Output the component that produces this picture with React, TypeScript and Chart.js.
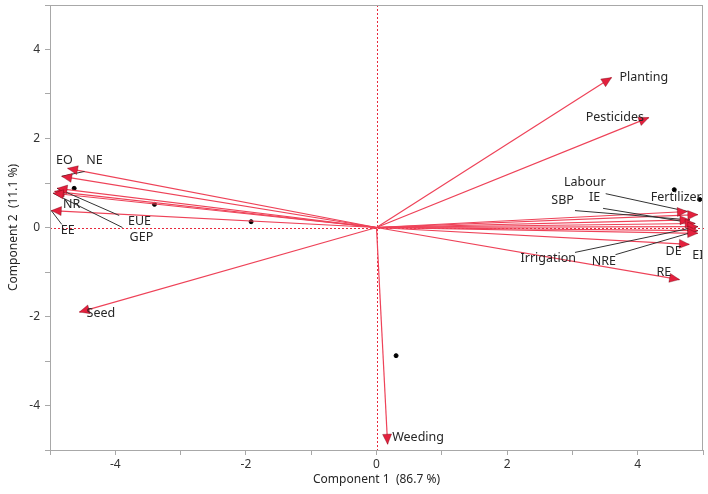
import React, { useEffect, useRef } from "react";
import { Chart, registerables } from "chart.js";

Chart.register(...registerables);

// ---- Data ----
const variables = [
  "Planting", "Pesticides", "Seed", "Weeding",
  "Labour", "Fertilizer", "SBP", "IE", "Irrigation", "NRE", "EI", "DE", "RE",
  "EO", "NE", "NR", "EUE", "GEP", "EE",
];
const loadingX = [
  3.6, 4.17, -4.55, 0.17,
  4.76, 4.92, 4.8, 4.88, 4.92, 4.92, 4.92, 4.79, 4.64,
  -4.73, -4.82, -4.93, -4.89, -4.95, -4.98,
];
const loadingY = [
  3.37, 2.47, -1.9, -4.87,
  0.36, 0.29, 0.17, 0.09, 0.02, -0.07, -0.13, -0.38, -1.17,
  1.33, 1.15, 0.81, 0.88, 0.77, 0.38,
];
const scoreX = [-4.63, -3.4, -1.92, 0.3, 4.56, 4.95];
const scoreY = [0.88, 0.52, 0.13, -2.88, 0.85, 0.63];
const xMajorTicks = [-4, -2, 0, 2, 4];
const yMajorTicks = [-4, -2, 0, 2, 4];
const xTitle = "Component 1  (86.7 %)";
const yTitle = "Component 2  (11.1 %)";

// ---- Label layout (data units), kept apart from the data ----
const labelLayout: Record<string, { x: number; y: number; align: CanvasTextAlign; lx?: number; ly?: number }> = {
  Planting: { x: 3.72, y: 3.37, align: "left" },
  Pesticides: { x: 3.65, y: 2.47, align: "center" },
  Seed: { x: -4.44, y: -1.92, align: "left" },
  Weeding: { x: 0.24, y: -4.72, align: "left" },
  Labour: { x: 3.19, y: 1.01, align: "center", lx: 3.51, ly: 0.76 },
  Fertilizer: { x: 4.2, y: 0.67, align: "left" },
  SBP: { x: 2.85, y: 0.61, align: "center", lx: 3.04, ly: 0.38 },
  IE: { x: 3.34, y: 0.67, align: "center", lx: 3.47, ly: 0.43 },
  Irrigation: { x: 2.63, y: -0.7, align: "center", lx: 3.04, ly: -0.56 },
  NRE: { x: 3.48, y: -0.76, align: "center", lx: 3.66, ly: -0.61 },
  EI: { x: 4.92, y: -0.63, align: "center" },
  DE: { x: 4.55, y: -0.54, align: "center" },
  RE: { x: 4.4, y: -1.01, align: "center" },
  EO: { x: -4.78, y: 1.51, align: "center" },
  NE: { x: -4.32, y: 1.51, align: "center", lx: -4.47, ly: 1.26 },
  NR: { x: -4.67, y: 0.52, align: "center" },
  EUE: { x: -3.63, y: 0.13, align: "center", lx: -3.94, ly: 0.27 },
  GEP: { x: -3.6, y: -0.22, align: "center", lx: -3.89, ly: 0.0 },
  EE: { x: -4.73, y: -0.07, align: "center", lx: -4.82, ly: 0.07 },
};

const FONT = "'Noto Sans', 'DejaVu Sans', sans-serif";
const VECTOR_COLOR = "rgb(238,66,88)";
const HEAD_COLOR = "#e3203d";
const ZERO_COLOR = "rgb(232,40,60)";

const biplotPlugin = {
  id: "biplot",
  beforeDatasetsDraw(chart: any) {
    const { ctx, chartArea, scales } = chart;
    const x = scales.x, y = scales.y;
    const ox = Math.round(x.getPixelForValue(0));
    const oy = Math.round(y.getPixelForValue(0));
    ctx.save();
    ctx.fillStyle = ZERO_COLOR;
    for (let py = Math.ceil(chartArea.top); py < chartArea.bottom; py += 4) {
      ctx.fillRect(ox, py, 1, 2);
    }
    for (let px = Math.ceil(chartArea.left); px < chartArea.right; px += 4) {
      ctx.fillRect(px, oy, 2, 1);
    }
    ctx.restore();
  },
  afterDatasetsDraw(chart: any) {
    const { ctx, chartArea, scales } = chart;
    const x = scales.x, y = scales.y;
    const ox = x.getPixelForValue(0), oy = y.getPixelForValue(0);
    ctx.save();
    ctx.beginPath();
    ctx.rect(chartArea.left, chartArea.top, chartArea.right - chartArea.left, chartArea.bottom - chartArea.top);
    ctx.clip();
    // leader lines
    ctx.strokeStyle = "#333";
    ctx.lineWidth = 1;
    variables.forEach((name, i) => {
      const l = labelLayout[name];
      if (l && l.lx !== undefined && l.ly !== undefined) {
        ctx.beginPath();
        ctx.moveTo(x.getPixelForValue(l.lx), y.getPixelForValue(l.ly));
        ctx.lineTo(x.getPixelForValue(loadingX[i]), y.getPixelForValue(loadingY[i]));
        ctx.stroke();
      }
    });
    // arrowheads
    variables.forEach((name, i) => {
      const tx = x.getPixelForValue(loadingX[i]);
      const ty = y.getPixelForValue(loadingY[i]);
      const a = Math.atan2(ty - oy, tx - ox);
      const len = 10, hw = 4.5;
      const bx = tx - len * Math.cos(a), by = ty - len * Math.sin(a);
      ctx.beginPath();
      ctx.moveTo(tx, ty);
      ctx.lineTo(bx + hw * Math.sin(a), by - hw * Math.cos(a));
      ctx.lineTo(bx - hw * Math.sin(a), by + hw * Math.cos(a));
      ctx.closePath();
      ctx.fillStyle = HEAD_COLOR;
      ctx.fill();
      ctx.strokeStyle = "rgba(90,0,10,0.55)";
      ctx.lineWidth = 0.6;
      ctx.stroke();
    });
    // labels
    ctx.fillStyle = "#262626";
    ctx.font = `12.5px ${FONT}`;
    ctx.textBaseline = "middle";
    variables.forEach((name) => {
      const l = labelLayout[name];
      if (!l) return;
      ctx.textAlign = l.align;
      ctx.fillText(name, x.getPixelForValue(l.x), y.getPixelForValue(l.y));
    });
    ctx.restore();
    // frame
    ctx.save();
    ctx.strokeStyle = "#a8a8a8";
    ctx.lineWidth = 1;
    ctx.strokeRect(
      Math.round(chartArea.left) + 0.5,
      Math.round(chartArea.top) + 0.5,
      Math.round(chartArea.right - chartArea.left) - 1,
      Math.round(chartArea.bottom - chartArea.top)
    );
    ctx.restore();
  },
};

export default function App() {
  const ref = useRef<HTMLCanvasElement | null>(null);
  useEffect(() => {
    document.body.style.margin = "0";
    const canvas = ref.current!;
    const datasets: any[] = variables.map((name, i) => ({
      type: "line",
      label: name,
      data: [
        { x: 0, y: 0 },
        { x: loadingX[i], y: loadingY[i] },
      ],
      borderColor: VECTOR_COLOR,
      borderWidth: 1.2,
      pointRadius: 0,
      showLine: true,
      fill: false,
    }));
    datasets.push({
      type: "scatter",
      label: "scores",
      data: scoreX.map((v, i) => ({ x: v, y: scoreY[i] })),
      backgroundColor: "#000",
      borderColor: "#000",
      pointRadius: 2,
    });
    const tickCb = (majors: number[]) => (v: any) => (majors.includes(Number(v)) ? String(v) : "");
    const chart = new Chart(canvas, {
      type: "scatter",
      data: { datasets },
      plugins: [biplotPlugin],
      options: {
        responsive: false,
        animation: false,
        layout: { padding: { top: 3, right: 3, left: 0, bottom: 0 } },
        plugins: { legend: { display: false }, tooltip: { enabled: false } },
        scales: {
          x: {
            type: "linear",
            min: -5,
            max: 5,
            afterFit: (s: any) => { s.height = 44; s.paddingLeft = 0; s.paddingRight = 0; },
            ticks: {
              stepSize: 1,
              autoSkip: false,
              maxRotation: 0,
              padding: 2,
              color: "#333",
              font: { family: FONT, size: 12 },
              callback: tickCb(xMajorTicks),
            },
            grid: { drawOnChartArea: false, drawTicks: true, tickLength: 5, color: "#a8a8a8" },
            border: { display: true, color: "#a8a8a8" },
            title: {
              display: true,
              text: xTitle,
              color: "#262626",
              font: { family: FONT, size: 12 },
              padding: { top: 0, bottom: 7 },
            },
          },
          y: {
            type: "linear",
            min: -5,
            max: 5,
            afterFit: (s: any) => { s.width = 50; s.paddingTop = 0; s.paddingBottom = 0; },
            ticks: {
              stepSize: 1,
              autoSkip: false,
              padding: 5,
              color: "#333",
              font: { family: FONT, size: 12 },
              callback: tickCb(yMajorTicks),
            },
            grid: { drawOnChartArea: false, drawTicks: true, tickLength: 5, color: "#a8a8a8" },
            border: { display: true, color: "#a8a8a8" },
            title: {
              display: true,
              text: yTitle,
              color: "#262626",
              font: { family: FONT, size: 12 },
              padding: { top: 6, bottom: 0 },
            },
          },
        },
      } as any,
    });
    return () => chart.destroy();
  }, []);
  return (
    <div style={{ position: "absolute", left: 0, top: 0, width: 708, height: 494, background: "#fff" }}>
      <canvas ref={ref} width={708} height={494} style={{ display: "block", width: 708, height: 494 }} />
    </div>
  );
}
